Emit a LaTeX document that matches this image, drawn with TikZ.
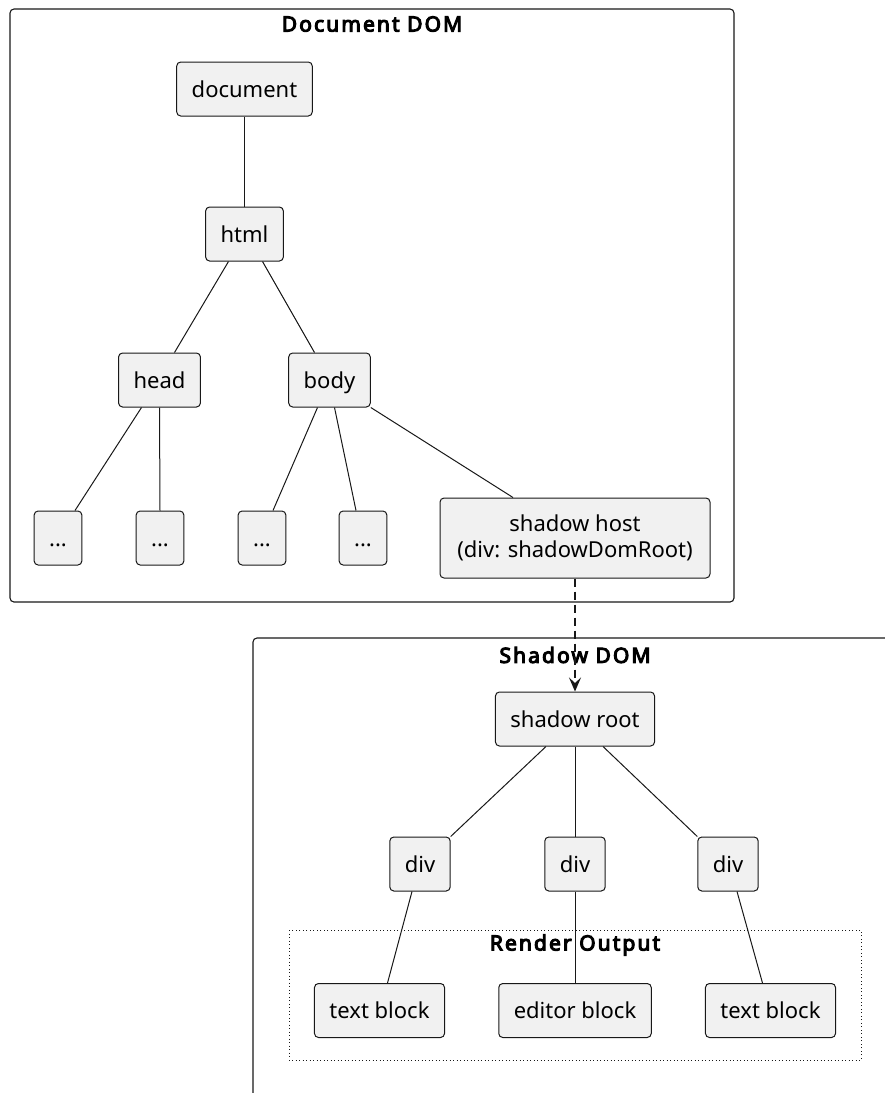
\documentclass[tikz,border=0pt]{standalone}
\usepackage{fontspec}
\setmainfont{Noto Sans}
\newfontfamily\titlefont[FakeBold=5,LetterSpace=10]{Noto Sans}
\usetikzlibrary{arrows.meta}
\definecolor{boxfill}{HTML}{F1F1F1}
\definecolor{edge}{HTML}{181818}
\tikzset{
  basebox/.style={draw=edge, fill=boxfill, rounded corners=4pt, line width=1pt,
    inner xsep=15pt, inner ysep=0pt, minimum height=54pt, align=center,
    font=\fontsize{22}{26}\selectfont},
  box/.style={basebox, text height=21pt, text depth=5pt},
  conn/.style={draw=edge, line width=1pt},
  frame/.style={draw=edge, line width=1.1pt, rounded corners=4pt},
  frametitle/.style={inner sep=0pt, font=\titlefont\fontsize{21}{24}\selectfont}
}
\begin{document}
\begin{tikzpicture}[x=1pt,y=-1pt]
\useasboundingbox (0,0) rectangle (885,1093);
% Document DOM frame
\draw[frame] (10,9) rectangle (734,602);
\node[frametitle] (t1) at (372,24) {Document DOM};
\node[box] (doc) at (244.5,89) {document};
\node[box] (html) at (244.5,234) {html};
\node[box] (head) at (159.5,380) {head};
\node[box] (body) at (329.5,380) {body};
\node[box] (d1) at (58,538) {...};
\node[box] (d2) at (160,538) {...};
\node[box] (d3) at (262,538) {...};
\node[box] (d4) at (363,538) {...};
\node[basebox, minimum height=80pt, minimum width=270pt] (host) at (575,538) {shadow host\\(div: shadowDomRoot)};
\draw[conn] (doc.south) -- (html.north);
\draw[conn] ([xshift=-16pt]html.south) -- ([xshift=15pt]head.north);
\draw[conn] ([xshift=18pt]html.south) -- ([xshift=-15pt]body.north);
\draw[conn] ([xshift=-18pt]head.south) -- ([xshift=17pt]d1.north);
\draw[conn] (head.south) -- (d2.north);
\draw[conn] ([xshift=-12pt]body.south) -- ([xshift=11pt]d3.north);
\draw[conn] ([xshift=5pt]body.south) -- ([xshift=-7pt]d4.north);
\draw[conn] (body.south east) -- ([xshift=-62pt]host.north);
% Shadow DOM frame
\draw[frame] (253,1093) -- (253,638) -- (885,638);
\node[frametitle] (t2) at (575,655) {Shadow DOM};
\node[box] (root) at (575,719) {shadow root};
\node[box] (v1) at (420,864) {div};
\node[box] (v2) at (575,864) {div};
\node[box] (v3) at (728,864) {div};
\draw[draw=edge, line width=1.1pt, dash pattern=on 8pt off 5pt, -{Stealth[length=14pt,width=12pt,inset=5.5pt]}] (host.south) -- (root.north);
\draw[conn] ([xshift=-29pt]root.south) -- (v1.north east);
\draw[conn] (root.south) -- (v2.north);
\draw[conn] ([xshift=28pt]root.south) -- (v3.north west);
% Render Output frame
\draw[edge, line width=1pt, dash pattern=on 1pt off 2.5pt] (289,930) rectangle (861,1060);
\node[frametitle] (t3) at (575,945) {Render Output};
\node[box] (tb1) at (379.5,1010.5) {text block};
\node[box] (eb) at (575,1010.5) {editor block};
\node[box] (tb2) at (770.5,1010.5) {text block};
\draw[conn] ([xshift=-8pt]v1.south) -- ([xshift=8pt]tb1.north);
\draw[conn] (v2.south) -- (eb.north);
\draw[conn] ([xshift=9pt]v3.south) -- ([xshift=-8pt]tb2.north);
\end{tikzpicture}
\end{document}
